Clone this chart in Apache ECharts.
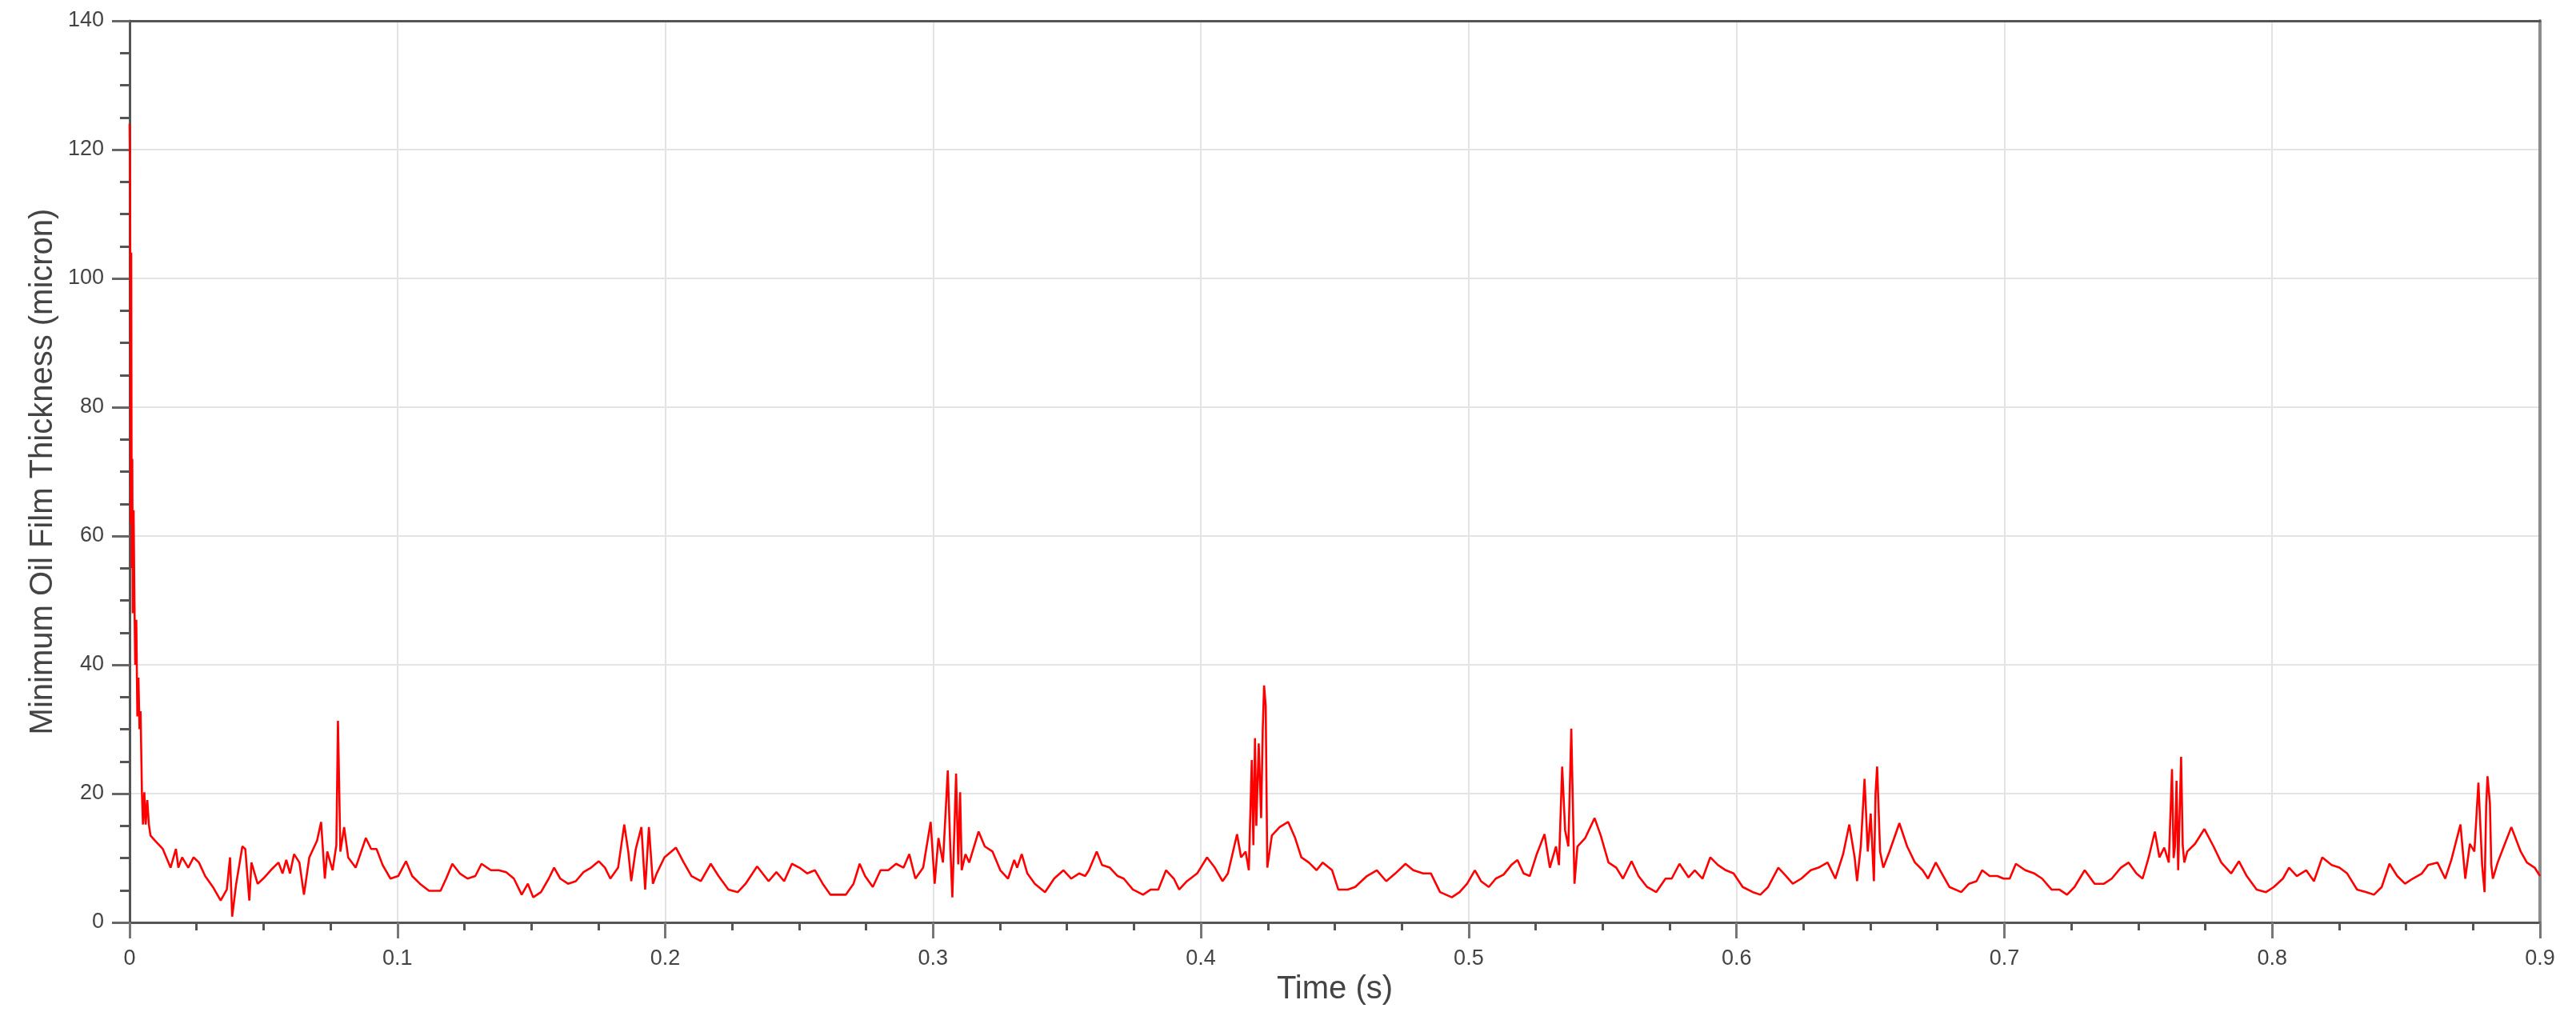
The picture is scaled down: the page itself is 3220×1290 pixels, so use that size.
<!DOCTYPE html>
<html>
<head>
<meta charset="utf-8">
<title>Minimum Oil Film Thickness</title>
<script src="https://cdn.jsdelivr.net/npm/echarts@6/dist/echarts.min.js"></script>
<style>
  html, body { margin: 0; padding: 0; background: #fff; }
  #chart { width: 3220px; height: 1290px; }
</style>
</head>
<body>
<div id="chart"></div>
<script>
// time (s)
const timeS = [
  0, 0.0002, 0.0004, 0.0006, 0.0008, 0.001, 0.0012, 0.0015, 0.0018, 0.0021,
  0.0025, 0.0029, 0.0033, 0.0037, 0.0041, 0.0046, 0.005, 0.0055, 0.006, 0.0066,
  0.0072, 0.0078, 0.0095, 0.0124, 0.0153, 0.0173, 0.0182, 0.0196, 0.0219, 0.0239,
  0.0259, 0.0282, 0.0311, 0.034, 0.0363, 0.0375, 0.0383, 0.0398, 0.0421, 0.0432,
  0.0447, 0.0455, 0.0478, 0.0499, 0.0527, 0.0556, 0.0571, 0.0585, 0.0599, 0.0614,
  0.0634, 0.0651, 0.0671, 0.07, 0.0715, 0.0729, 0.0738, 0.0758, 0.0772, 0.0778,
  0.0787, 0.0801, 0.0816, 0.0844, 0.0882, 0.0902, 0.0922, 0.0945, 0.0974, 0.1003,
  0.1032, 0.1055, 0.1084, 0.1118, 0.1161, 0.1182, 0.1205, 0.1233, 0.1262, 0.1291,
  0.1314, 0.1349, 0.1378, 0.1406, 0.1435, 0.1464, 0.1487, 0.1507, 0.1536, 0.1565,
  0.1585, 0.1608, 0.1637, 0.1666, 0.1695, 0.1723, 0.1752, 0.1775, 0.1795, 0.1824,
  0.1847, 0.1862, 0.1873, 0.189, 0.1911, 0.1925, 0.1939, 0.1954, 0.1968, 0.1997,
  0.204, 0.2069, 0.2098, 0.2133, 0.217, 0.2199, 0.2236, 0.2271, 0.23, 0.2343,
  0.2386, 0.2415, 0.2444, 0.2473, 0.2501, 0.253, 0.2559, 0.2588, 0.2617, 0.2646,
  0.2674, 0.2703, 0.2726, 0.2746, 0.2775, 0.2804, 0.2833, 0.2862, 0.289, 0.2911,
  0.2934, 0.2963, 0.2991, 0.3006, 0.302, 0.3037, 0.3055, 0.3064, 0.3072, 0.3086,
  0.3094, 0.3101, 0.3107, 0.3121, 0.3135, 0.317, 0.3193, 0.3222, 0.3251, 0.328,
  0.3303, 0.3314, 0.3331, 0.3352, 0.338, 0.3418, 0.3452, 0.3487, 0.3516, 0.3545,
  0.3568, 0.3582, 0.3611, 0.3631, 0.366, 0.3689, 0.3712, 0.3746, 0.3784, 0.3813,
  0.3841, 0.387, 0.3899, 0.3919, 0.3948, 0.3986, 0.4023, 0.4052, 0.4081, 0.4101,
  0.4135, 0.415, 0.4167, 0.4179, 0.419, 0.4196, 0.4202, 0.4207, 0.4216, 0.4225,
  0.4231, 0.4236, 0.4242, 0.4248, 0.4265, 0.4294, 0.4326, 0.4352, 0.4375, 0.4403,
  0.4432, 0.4455, 0.449, 0.4513, 0.4548, 0.4576, 0.462, 0.4657, 0.4692, 0.4726,
  0.4764, 0.4793, 0.483, 0.4859, 0.4893, 0.4937, 0.4966, 0.4994, 0.5023, 0.5046,
  0.5075, 0.5101, 0.513, 0.5159, 0.5182, 0.5205, 0.5228, 0.5254, 0.5283, 0.5303,
  0.5326, 0.5337, 0.5349, 0.536, 0.5372, 0.5383, 0.5395, 0.5406, 0.5435, 0.547,
  0.5493, 0.5522, 0.5551, 0.5576, 0.5608, 0.5634, 0.5666, 0.57, 0.5735, 0.5758,
  0.5787, 0.5821, 0.5844, 0.5873, 0.5902, 0.5931, 0.596, 0.5989, 0.6023, 0.6061,
  0.6089, 0.6118, 0.6156, 0.6185, 0.621, 0.6242, 0.6277, 0.6306, 0.634, 0.6369,
  0.6398, 0.6421, 0.6441, 0.645, 0.6464, 0.6478, 0.649, 0.6501, 0.6513, 0.6519,
  0.6525, 0.6536, 0.6548, 0.6571, 0.6608, 0.6637, 0.6666, 0.6695, 0.6715, 0.6744,
  0.6772, 0.6795, 0.6839, 0.6868, 0.6896, 0.6917, 0.6945, 0.6974, 0.6997, 0.702,
  0.7043, 0.7078, 0.7112, 0.7141, 0.7176, 0.7205, 0.7234, 0.7262, 0.73, 0.7337,
  0.7372, 0.7401, 0.7435, 0.7464, 0.7493, 0.7516, 0.7539, 0.7562, 0.7579, 0.7597,
  0.7614, 0.7626, 0.7632, 0.7637, 0.7643, 0.7649, 0.7660, 0.7666, 0.7672, 0.7683,
  0.7712, 0.7747, 0.7781, 0.781, 0.7847, 0.7876, 0.7905, 0.7942, 0.7977, 0.8006,
  0.804, 0.8063, 0.8092, 0.8127, 0.8156, 0.8187, 0.8222, 0.8251, 0.828, 0.8317,
  0.8352, 0.838, 0.8409, 0.8438, 0.8467, 0.8496, 0.8525, 0.8559, 0.8582, 0.8617,
  0.8646, 0.8669, 0.8703, 0.8721, 0.8738, 0.8755, 0.877, 0.8784, 0.8793, 0.8799,
  0.8804, 0.8813, 0.8818, 0.8824, 0.8842, 0.8865, 0.8893, 0.8928, 0.8951, 0.898,
  0.9
];

// minimum oil film thickness (micron)
const filmUm = [
  124, 114, 62, 104, 55, 72, 48, 64, 50, 40,
  47, 32, 38, 30, 32.8, 20.2, 15.2, 20.2, 15.2, 19.0,
  15.2, 13.5, 12.7, 11.4, 8.5, 11.4, 8.5, 10.1, 8.5, 10.1,
  9.3, 7.2, 5.5, 3.4, 5.1, 10.1, 0.9, 6.0, 11.8, 11.4,
  3.4, 9.3, 6.0, 6.8, 8.1, 9.3, 7.6, 9.7, 7.6, 10.6,
  9.3, 4.3, 10.1, 12.7, 15.6, 6.8, 11.0, 8.1, 12.0, 31.3,
  11.0, 14.8, 10.1, 8.5, 13.1, 11.4, 11.4, 8.9, 6.8, 7.2,
  9.5, 7.2, 6.0, 4.9, 4.9, 6.8, 9.1, 7.6, 6.8, 7.2,
  9.1, 8.1, 8.1, 7.8, 6.8, 4.3, 6.0, 3.9, 4.7, 6.8,
  8.5, 6.8, 6.0, 6.4, 7.8, 8.5, 9.5, 8.5, 6.8, 8.5,
  15.2, 11.0, 6.4, 11.4, 14.8, 5.1, 14.8, 6.0, 7.6, 10.1,
  11.6, 9.3, 7.2, 6.4, 9.1, 7.2, 5.1, 4.7, 6.0, 8.7,
  6.4, 7.8, 6.4, 9.1, 8.5, 7.6, 8.1, 6.0, 4.3, 4.3,
  4.3, 6.0, 9.1, 7.2, 5.5, 8.1, 8.1, 9.1, 8.5, 10.6,
  6.8, 8.5, 15.6, 6.0, 13.1, 9.3, 23.6, 12.0, 3.9, 23.1,
  9.0, 20.2, 8.1, 10.6, 9.3, 14.1, 11.8, 11.0, 8.1, 6.8,
  9.7, 8.5, 10.6, 7.6, 6.0, 4.7, 6.8, 8.1, 6.8, 7.6,
  7.2, 8.1, 11.0, 8.9, 8.5, 7.2, 6.8, 5.1, 4.3, 5.1,
  5.1, 8.1, 6.8, 5.1, 6.4, 7.6, 10.1, 8.5, 6.4, 7.6,
  13.7, 10.1, 11.0, 8.1, 25.2, 12.0, 28.6, 15.0, 27.8, 16.2,
  30.0, 36.8, 33.6, 8.5, 13.5, 14.8, 15.6, 13.1, 10.1, 9.3,
  8.1, 9.3, 8.1, 5.1, 5.1, 5.5, 7.2, 8.1, 6.4, 7.6,
  9.1, 8.1, 7.6, 7.6, 4.7, 3.9, 4.7, 6.0, 8.1, 6.4,
  5.5, 6.8, 7.4, 8.9, 9.7, 7.6, 7.2, 10.6, 13.7, 8.5,
  11.8, 8.9, 24.2, 14.3, 11.8, 30.1, 6.0, 11.8, 13.1, 16.2,
  13.5, 9.3, 8.5, 6.8, 9.5, 7.2, 5.5, 4.7, 6.8, 6.8,
  9.1, 7.0, 8.1, 6.8, 10.1, 8.9, 8.1, 7.6, 5.5, 4.7,
  4.3, 5.5, 8.5, 7.2, 6.0, 6.8, 8.1, 8.5, 9.3, 6.8,
  10.6, 15.2, 10.1, 6.4, 11.8, 22.3, 11.0, 16.9, 6.4, 20.0,
  24.2, 11.0, 8.5, 11.0, 15.4, 11.8, 9.3, 8.1, 6.8, 9.3,
  7.2, 5.5, 4.7, 6.0, 6.4, 8.1, 7.2, 7.2, 6.8, 6.8,
  9.1, 8.1, 7.6, 6.8, 5.1, 5.1, 4.3, 5.5, 8.1, 6.0,
  6.0, 6.8, 8.5, 9.3, 7.6, 6.8, 10.1, 14.1, 10.1, 11.6,
  9.3, 23.8, 10.0, 11.8, 22.0, 8.1, 25.7, 12.0, 9.3, 11.0,
  12.2, 14.5, 11.8, 9.3, 7.6, 9.5, 7.2, 5.1, 4.7, 5.5,
  6.8, 8.5, 7.2, 8.1, 6.4, 10.1, 8.9, 8.5, 7.6, 5.1,
  4.7, 4.3, 5.5, 9.1, 7.2, 6.0, 6.8, 7.6, 8.9, 9.3,
  6.8, 9.7, 15.2, 6.8, 12.2, 11.0, 21.7, 8.9, 4.7, 18.0,
  22.7, 18.5, 9.0, 6.8, 9.3, 11.8, 14.8, 11.0, 9.3, 8.5,
  7.2
];

const xTicks = [0, 0.1, 0.2, 0.3, 0.4, 0.5, 0.6, 0.7, 0.8, 0.9];
const yTicks = [0, 20, 40, 60, 80, 100, 120, 140];

const points = timeS.map((t, i) => [t, filmUm[i]]);

const chart = echarts.init(document.getElementById('chart'), null, { renderer: 'canvas' });

const labelFont = 'Liberation Sans, Arial, sans-serif';
const axisColor = '#555555';
const textColor = '#444444';

chart.setOption({
  animation: false,
  backgroundColor: '#ffffff',
  grid: {
    left: 162,
    right: 45,
    top: 26,
    bottom: 137
  },
  xAxis: [{
    type: 'value',
    min: xTicks[0],
    max: xTicks[xTicks.length - 1],
    interval: 0.1,
    name: 'Time (s)',
    nameLocation: 'middle',
    nameGap: 64,
    nameTextStyle: { fontSize: 40, color: textColor, fontFamily: labelFont },
    axisLine: { show: true, onZero: false, lineStyle: { color: axisColor, width: 3 } },
    axisTick: { show: true, length: 20, lineStyle: { color: '#777', width: 3 } },
    minorTick: { show: true, splitNumber: 4, length: 10, lineStyle: { color: '#555', width: 3 } },
    axisLabel: {
      fontSize: 27,
      color: textColor,
      fontFamily: labelFont,
      margin: 32,
      formatter: v => String(+v.toFixed(1))
    },
    splitLine: { show: true, lineStyle: { color: '#e4e4e4', width: 2 } }
  }, {
    // top border of the frame
    type: 'value',
    position: 'top',
    min: xTicks[0],
    max: xTicks[xTicks.length - 1],
    axisLine: { show: true, onZero: false, lineStyle: { color: '#555', width: 3 } },
    axisTick: { show: false },
    axisLabel: { show: false },
    splitLine: { show: false }
  }],
  yAxis: [{
    type: 'value',
    min: yTicks[0],
    max: yTicks[yTicks.length - 1],
    interval: 20,
    name: 'Minimum Oil Film Thickness (micron)',
    nameLocation: 'middle',
    nameGap: 86,
    nameTextStyle: { fontSize: 40, color: textColor, fontFamily: labelFont },
    axisLine: { show: true, onZero: false, lineStyle: { color: axisColor, width: 3 } },
    axisTick: { show: true, length: 22, lineStyle: { color: '#666', width: 3 } },
    minorTick: { show: true, splitNumber: 4, length: 12, lineStyle: { color: '#555', width: 3 } },
    axisLabel: { fontSize: 27, color: textColor, fontFamily: labelFont, margin: 32 },
    splitLine: { show: true, lineStyle: { color: '#e4e4e4', width: 2 } }
  }, {
    // right border of the frame
    type: 'value',
    position: 'right',
    min: yTicks[0],
    max: yTicks[yTicks.length - 1],
    axisLine: { show: true, onZero: false, lineStyle: { color: '#8c8c8c', width: 4 } },
    axisTick: { show: false },
    axisLabel: { show: false },
    splitLine: { show: false }
  }],
  series: [{
    type: 'line',
    xAxisIndex: 0,
    yAxisIndex: 0,
    data: points,
    showSymbol: false,
    symbol: 'none',
    lineStyle: { color: '#ff0000', width: 2.6 },
    z: 3
  }]
});
</script>
</body>
</html>
